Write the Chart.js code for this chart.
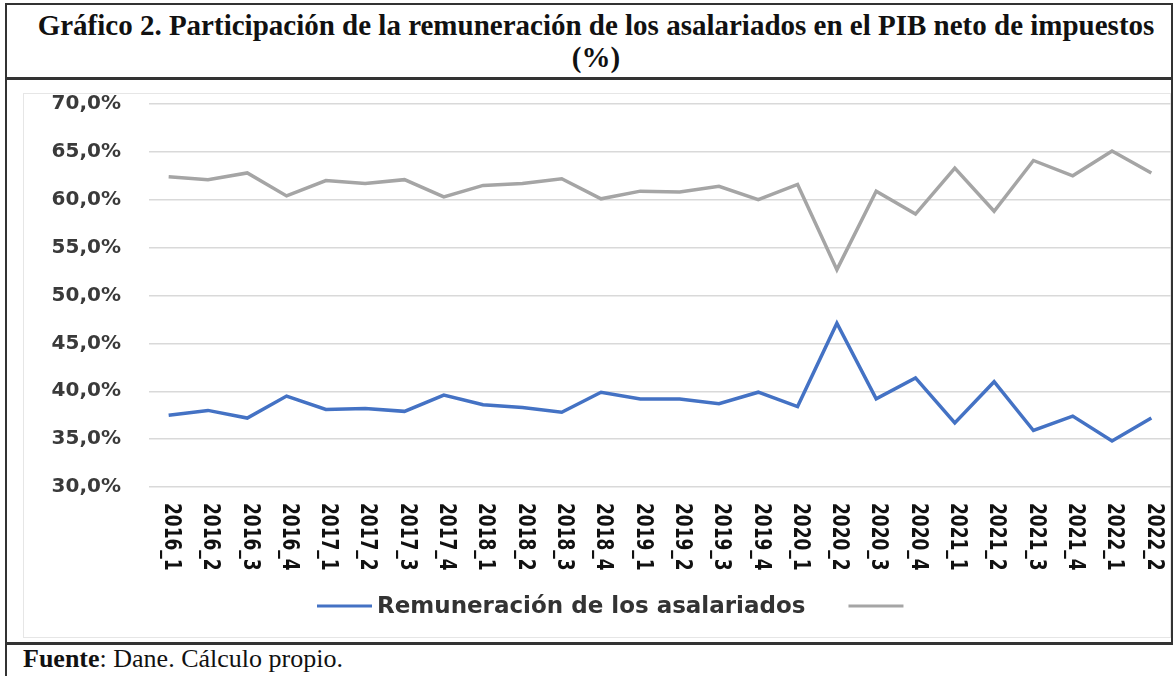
<!DOCTYPE html>
<html>
<head>
<meta charset="utf-8">
<script src="https://cdn.jsdelivr.net/npm/chart.js@4.4.0/dist/chart.umd.min.js"></script>
<style>
    body { margin: 0; background: #fff; width: 1174px; height: 676px; overflow: hidden; position: relative; }
    .frame { position: absolute; left: 5px; top: 3px; width: 1164px; height: 637px;
             border: 2px solid #333; border-bottom: 3px solid #333; }
    .title { position: absolute; left: 0; top: 0; width: 1164px; height: 75px; border-bottom: 3px solid #333;
             font-family: 'Liberation Serif', 'Times New Roman', serif; font-weight: bold; font-size: 29px;
             line-height: 32px; text-align: center; white-space: nowrap; padding-top: 4px; box-sizing: border-box;
             padding-left: 14px; color: #111; }
    .chart-box { position: absolute; left: 0; top: 78px; width: 1164px; height: 559px; }
    .left-tail { position: absolute; left: 5px; top: 643px; width: 2px; height: 33px; background: #333; }
    .source { position: absolute; left: 23px; top: 644px; font-family: 'Liberation Serif', 'Times New Roman', serif;
              font-size: 26px; color: #111; white-space: nowrap; }
</style>
</head>
<body>
<div class="frame">
    <div class="title">Gráfico 2. Participación de la remuneración de los asalariados en el PIB neto de impuestos<br>(%)</div>
    <div class="chart-box"><canvas id="shareChart"></canvas></div>
</div>
<div class="left-tail"></div>
<div class="source"><b>Fuente</b>: Dane. Cálculo propio.</div>

<script>
const quarters = ['2016_1', '2016_2', '2016_3', '2016_4', '2017_1', '2017_2', '2017_3', '2017_4',
    '2018_1', '2018_2', '2018_3', '2018_4', '2019_1', '2019_2', '2019_3', '2019_4',
    '2020_1', '2020_2', '2020_3', '2020_4', '2021_1', '2021_2', '2021_3', '2021_4',
    '2022_1', '2022_2'];
const remuneracion = [37.5, 38.0, 37.2, 39.5, 38.1, 38.2, 37.9, 39.6, 38.6, 38.3, 37.8, 39.9, 39.2,
    39.2, 38.7, 39.9, 38.4, 47.1, 39.2, 41.4, 36.7, 41.0, 35.9, 37.4, 34.8, 37.2];
const otraSerie = [62.4, 62.1, 62.8, 60.4, 62.0, 61.7, 62.1, 60.3, 61.5, 61.7, 62.2, 60.1, 60.9,
    60.8, 61.4, 60.0, 61.6, 52.7, 60.9, 58.5, 63.3, 58.8, 64.1, 62.5, 65.1, 62.8];
const yTicks = [30, 35, 40, 45, 50, 55, 60, 65, 70];

const BLUE = '#4472C4';
const GRAY = '#A5A5A5';

function formatPct(v) {
    return v.toFixed(1).replace('.', ',') + '%';
}

// x labels read top-to-bottom, so they are drawn here instead of by the axis
const verticalLabels = {
    id: 'verticalLabels',
    beforeDraw(chart) {
        const ctx = chart.ctx;
        ctx.save();
        ctx.strokeStyle = '#e6e6e6';
        ctx.lineWidth = 1;
        ctx.strokeRect(16.5, 10.5, 1147, 544);
        ctx.restore();
    },
    afterDraw(chart) {
        const ctx = chart.ctx;
        const xScale = chart.scales.x;
        const top = chart.chartArea.bottom + 16;
        ctx.save();
        ctx.fillStyle = '#111';
        ctx.font = 'bold 17px "DejaVu Sans", Verdana, sans-serif';
        ctx.textAlign = 'left';
        ctx.textBaseline = 'middle';
        chart.data.labels.forEach((lab, i) => {
            const x = xScale.getPixelForValue(i);
            ctx.save();
            ctx.translate(x + 2, top);
            ctx.rotate(Math.PI / 2);
            ctx.scale(1, 1.3);
            ctx.fillText(lab, 0, 0);
            ctx.restore();
        });

        // legend
        const ly = 523;
        let lx = 310;
        ctx.font = 'bold 23px "DejaVu Sans", Verdana, sans-serif';
        chart.data.datasets.forEach(ds => {
            ctx.strokeStyle = ds.borderColor;
            ctx.lineWidth = 3;
            ctx.beginPath();
            ctx.moveTo(lx, ly);
            ctx.lineTo(lx + 55, ly);
            ctx.stroke();
            lx += 60;
            if (ds.label) {
                ctx.fillStyle = '#333';
                ctx.fillText(ds.label, lx, ly + 1);
                lx += ctx.measureText(ds.label).width + 43;
            }
        });
        ctx.restore();
    }
};

new Chart(document.getElementById('shareChart').getContext('2d'), {
    type: 'line',
    data: {
        labels: quarters,
        datasets: [{
            label: 'Remuneración de los asalariados',
            data: remuneracion,
            borderColor: BLUE,
            backgroundColor: BLUE,
            borderWidth: 3.5,
            pointRadius: 0,
            tension: 0
        },
        {
            label: '',
            data: otraSerie,
            borderColor: GRAY,
            backgroundColor: GRAY,
            borderWidth: 3.5,
            pointRadius: 0,
            tension: 0
        }]
    },
    options: {
        responsive: true,
        maintainAspectRatio: false,
        animation: false,
        layout: {
            padding: { top: 21, left: 0, right: 0, bottom: 0 }
        },
        plugins: {
            legend: { display: false },
            tooltip: { enabled: false }
        },
        scales: {
            x: {
                offset: true,
                grid: { display: false },
                border: { display: false },
                ticks: { display: false },
                afterFit: function (scale) { scale.height = 155; }
            },
            y: {
                min: 30,
                max: 70,
                afterBuildTicks: function (scale) {
                    scale.ticks = yTicks.map(v => ({ value: v }));
                },
                afterFit: function (scale) { scale.width = 142; },
                grid: { color: '#d9d9d9', lineWidth: 1.5, drawTicks: true, tickLength: 28, tickColor: 'rgba(0,0,0,0)' },
                border: { display: false },
                ticks: {
                    padding: 0,
                    color: '#3a3a3a',
                    font: { family: '"DejaVu Sans", Verdana, sans-serif', size: 20, weight: 'bold' },
                    callback: function (value) { return formatPct(value); }
                }
            }
        }
    },
    plugins: [verticalLabels]
});
</script>
</body>
</html>
